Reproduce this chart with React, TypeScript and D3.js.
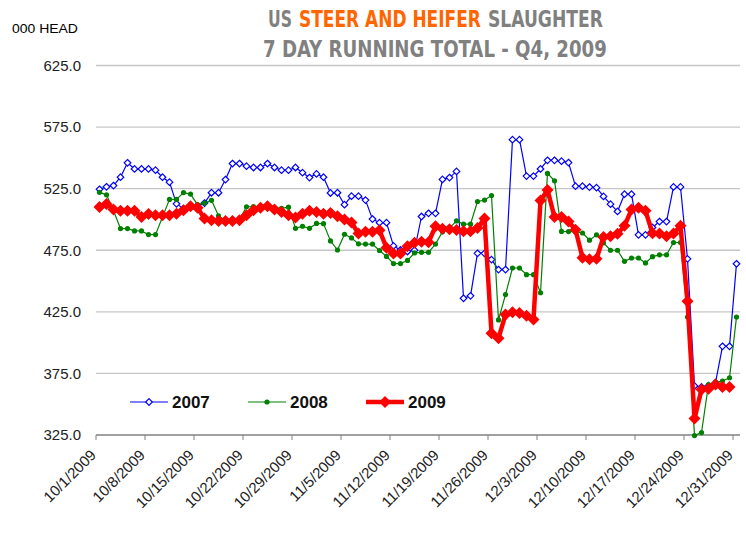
import React, { useLayoutEffect, useRef, useState } from "react";
import * as d3 from "d3";

// daily 7-day running totals, 000 head, starting 10/1
const s2007 = [
  524.5, 526.5, 527.5, 534.3, 546, 541, 541, 541, 540, 534.3, 530.3, 512.7, 508.8, 510, 511,
  513.3, 521.7, 521.7, 532.4, 545.4, 545.4, 543.3, 542.2, 542.2, 545.4, 542.2, 540, 540, 542.2,
  538, 534, 537, 534.3, 521.5, 521.7, 512, 518.9, 518.9, 515.7, 500.3, 497.4, 497.4, 478.5,
  475.2, 474, 475, 502.4, 505, 505, 532.5, 534, 539, 436, 438, 472.5, 472.5, 467.4, 459.3,
  459.3, 564.8, 564.8, 535.2, 535.2, 541, 548, 548, 547.3, 546.2, 527, 527, 526.3, 525.8,
  518.7, 512.4, 506.5, 520.5, 520.5, 487.5, 487.5, 493.5, 498.3, 498.3, 526.4, 526.4, 468,
  364.8, 364, 365, 367.5, 397, 397, 464,
];
const s2008 = [
  522, 520, 507, 492.6, 492.6, 490.7, 490.7, 487.7, 487.7, 502, 516.3, 516.3, 521.8, 520.6,
  512, 513.3, 515.5, 503, 499, 498, 500, 510.3, 510.5, 510, 510, 509.5, 509, 510, 492.8, 494.5,
  492.8, 496.8, 496.6, 482.6, 475.2, 488, 485, 480.2, 480, 480, 474.8, 470, 464.2, 464.2,
  466.7, 472.8, 473.3, 473.3, 480, 490, 493, 498.8, 496.2, 496.2, 514.6, 515.7, 519.4, 418.4,
  439, 460.6, 460.6, 455.2, 455.2, 440.5, 537.4, 531.4, 490.3, 490.2, 490, 489, 483.2, 487.5,
  481, 475, 475, 466, 468.7, 468.7, 464.7, 469.8, 471.3, 471.3, 481.3, 481.3, 420.8, 324.5,
  327, 366, 368, 368.8, 371.5, 420.8,
];
const s2009 = [
  510.1, 512.5, 508, 507, 507, 507, 502, 504.5, 503.4, 503.4, 503.4, 504.6, 507.4, 510.7,
  509.6, 500.7, 499.3, 498.8, 498.8, 498.8, 499.3, 503.4, 507.4, 509.5, 510.7, 508, 506,
  503.4, 501.5, 504.7, 507, 506, 504.7, 505.3, 502.6, 499.9, 497.5, 488.5, 490, 490, 491.2,
  477, 472.3, 472.3, 478.2, 481, 482, 481.5, 494.4, 492.5, 492, 491.5, 490.4, 490.4, 493,
  500.7, 407.7, 403.6, 422.8, 424.6, 424, 421.9, 418.8, 515.3, 524, 502, 502, 498.4, 491.7,
  469, 467.6, 468, 485.8, 486.4, 488.3, 494.8, 508, 509.5, 507, 488.8, 488.5, 486.4, 488.6,
  494.8, 433.5, 338.3, 362, 362.6, 366, 364, 364,
];

const xTickLabels = [
  "10/1/2009", "10/8/2009", "10/15/2009", "10/22/2009", "10/29/2009", "11/5/2009",
  "11/12/2009", "11/19/2009", "11/26/2009", "12/3/2009", "12/10/2009", "12/17/2009",
  "12/24/2009", "12/31/2009",
];
const yTicks = [325, 375, 425, 475, 525, 575, 625];

const W = 746;
const H = 534;
const font = "'Liberation Sans', Arial, sans-serif";
const narrow = "'Liberation Sans Narrow', 'DejaVu Sans Condensed', Arial, sans-serif";

const x = d3.scaleLinear().domain([0, 92]).range([96, 740]);
const y = d3.scaleLinear().domain([325, 625]).range([435, 65.5]);

const line = d3
  .line<number>()
  .x((_, i) => x(i + 0.5))
  .y((d) => y(d));

const diamond = (r: number) => `M0,${-r}L${r},0L0,${r}L${-r},0Z`;

function Marker({ kind }: { kind: string }) {
  if (kind === "2007")
    return <path d={diamond(3.3)} fill="#fff" stroke="#0000ff" strokeWidth={1.2} />;
  if (kind === "2008") return <circle r={2.6} fill="#008000" />;
  return <path d={diamond(6)} fill="#ff0000" />;
}

// text squeezed horizontally to a given width (scale, so its box shrinks too)
function FitText({ x0, y0, w, size, fill, family, bold, children }: any) {
  const ref = useRef<SVGTextElement>(null);
  const [sx, setSx] = useState(1);
  useLayoutEffect(() => {
    if (ref.current) {
      const nat = ref.current.getComputedTextLength();
      if (nat > 0) setSx(w / nat);
    }
  }, [w]);
  return (
    <text
      ref={ref}
      transform={`translate(${x0},${y0}) scale(${sx},1)`}
      fontFamily={family}
      fontSize={size}
      fontWeight={bold ? "bold" : "normal"}
      fill={fill}
    >
      {children}
    </text>
  );
}

const series = [
  { name: "2007", data: s2007, color: "#0000ff", width: 1.2 },
  { name: "2008", data: s2008, color: "#008000", width: 1.2 },
  { name: "2009", data: s2009, color: "#ff0000", width: 4.5 },
];

const legendX = [130, 248, 366];

// title pieces: text, colour, left x, width
const titleParts = [
  { t: "US", c: "#808080", x: 268, w: 24 },
  { t: "STEER AND HEIFER", c: "#ff6600", x: 299, w: 182 },
  { t: "SLAUGHTER", c: "#808080", x: 488, w: 115 },
];

export default function App() {
  return (
    <div style={{ position: "absolute", left: 0, top: 0 }}>
      <svg width={W} height={H} style={{ display: "block", background: "#fff" }}>
        {/* titles */}
        <FitText x0={12} y0={33} w={66} size={13} fill="#000" family={font}>
          000 HEAD
        </FitText>
        {titleParts.map((p) => (
          <FitText key={p.t} x0={p.x} y0={27} w={p.w} size={23} fill={p.c} family={narrow} bold>
            {p.t}
          </FitText>
        ))}
        <FitText x0={263} y0={57} w={344} size={23} fill="#808080" family={narrow} bold>
          7 DAY RUNNING TOTAL - Q4, 2009
        </FitText>

        {/* grid + y labels */}
        {yTicks.map((t) => (
          <g key={t}>
            {t !== 325 && <line x1={96} x2={740} y1={y(t)} y2={y(t)} stroke="#c6c6c6" strokeWidth={1.3} />}
            <text x={81} y={y(t)} dy="0.35em" textAnchor="end" fontFamily={font} fontSize={15} fill="#222">
              {t.toFixed(1)}
            </text>
          </g>
        ))}

        {/* x axis */}
        <line x1={96} x2={740} y1={y(325)} y2={y(325)} stroke="#808080" strokeWidth={1.3} />
        {xTickLabels.map((lab, i) => {
          const tx = x(i * 7);
          return (
            <g key={lab}>
              <line x1={tx} x2={tx} y1={y(325)} y2={y(325) + 5} stroke="#808080" />
              <text
                transform={`translate(${tx + 1},${y(325) + 21}) rotate(-45)`}
                textAnchor="end"
                fontFamily={font}
                fontSize={15}
                fill="#222"
              >
                {lab}
              </text>
            </g>
          );
        })}

        {/* series */}
        {series.map((s) => (
          <g key={s.name}>
            <path d={line(s.data) || ""} fill="none" stroke={s.color} strokeWidth={s.width} strokeLinejoin="round" />
            {s.data.map((v, i) => (
              <g key={i} transform={`translate(${x(i + 0.5)},${y(v)})`}>
                <Marker kind={s.name} />
              </g>
            ))}
          </g>
        ))}

        {/* legend */}
        {series.map((s, i) => (
          <g key={s.name} transform={`translate(${legendX[i]},402)`}>
            <line x1={0} x2={38} stroke={s.color} strokeWidth={s.width} />
            <g transform="translate(19,0)">
              <Marker kind={s.name} />
            </g>
            <text x={42} y={0} dy="0.35em" fontFamily={font} fontSize={17} fontWeight="bold" fill="#111">
              {s.name}
            </text>
          </g>
        ))}
      </svg>
    </div>
  );
}
